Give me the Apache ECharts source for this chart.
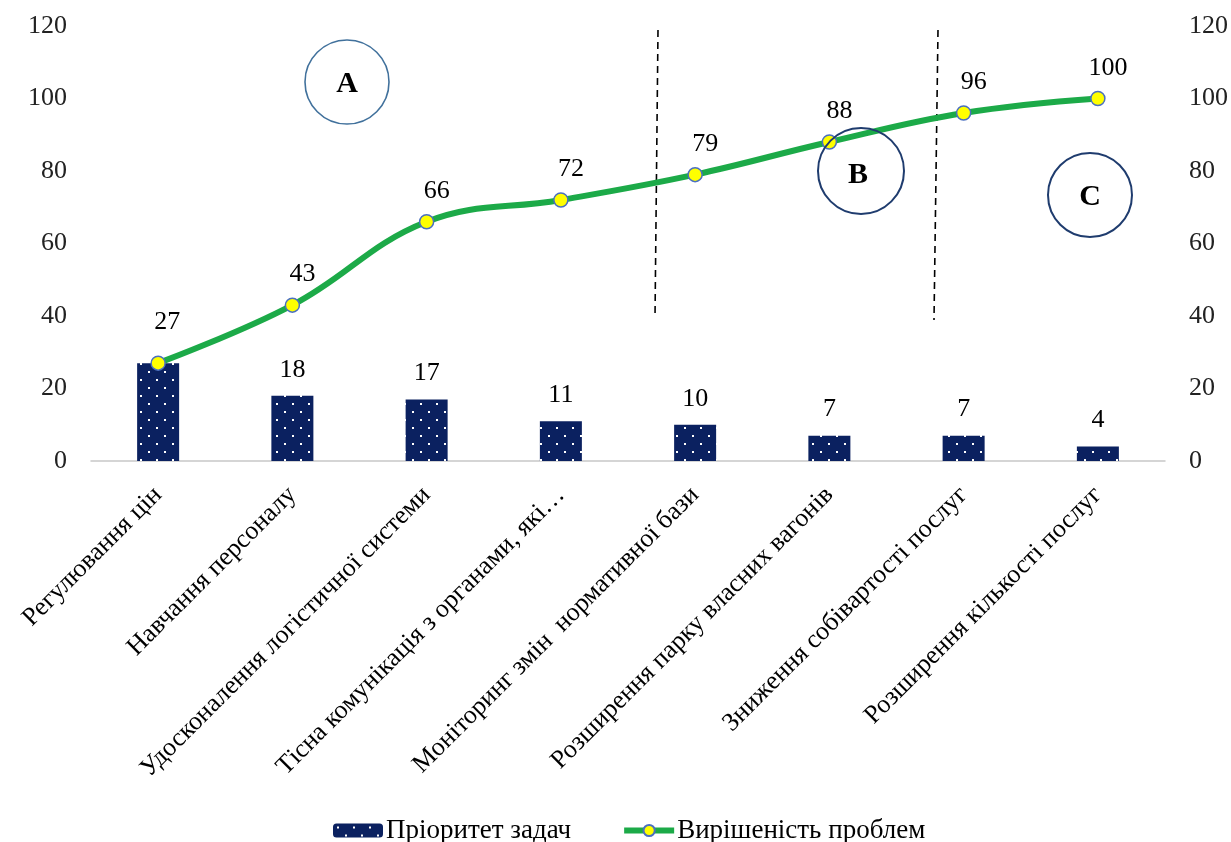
<!DOCTYPE html>
<html>
<head>
<meta charset="utf-8">
<script src="https://cdn.jsdelivr.net/npm/echarts@6/dist/echarts.min.js"></script>
<style>
html,body{margin:0;padding:0;background:#fff;}
#c{width:1231px;height:842px;}
</style>
</head>
<body>
<div id="c"></div>
<script>
const categories = [
  'Регулювання цін',
  'Навчання персоналу',
  'Удосконалення логістичної системи',
  'Тісна комунікація з органами, які…',
  'Моніторинг змін  нормативної бази',
  'Розширення парку власних вагонів',
  'Зниження собівартості послуг',
  'Розширення кількості послуг'
];
const priority = [27, 18, 17, 11, 10, 7, 7, 4];
const resolved = [27, 43, 66, 72, 79, 88, 96, 100];
const seriesNames = ['Пріоритет задач', 'Вирішеність проблем'];
const yTicks = { min: 0, max: 120, interval: 20 };
const zoneLetters = ['A', 'B', 'C'];

const FONT = '"Liberation Serif", "DejaVu Serif", serif';
const FS = 26;

// dotted navy pattern for bars
const pc = document.createElement('canvas');
pc.width = 16; pc.height = 16;
const px = pc.getContext('2d');
px.fillStyle = '#0b2160';
px.fillRect(0, 0, 16, 16);
px.fillStyle = '#ffffff';
px.fillRect(4, 3, 2, 2);
px.fillRect(12, 11, 2, 2);
const barPattern = { image: pc, repeat: 'repeat' };

// where the bar label would collide with the identical line label, Excel shows only one
const barData = priority.map((v, i) => (v === resolved[i] ? { value: v, label: { show: false } } : v));
const lineData = resolved.map((v, i) => (v === priority[i] ? { value: v, label: { offset: [9, -10] } } : v));

const chart = echarts.init(document.getElementById('c'), null, { renderer: 'canvas' });

const circleStyle = (stroke, lw) => ({ fill: 'none', stroke: stroke, lineWidth: lw });
const letterStyle = (t) => ({ text: t, fill: '#000', font: 'bold 30px ' + FONT, textAlign: 'center', textVerticalAlign: 'middle' });

chart.setOption({
  backgroundColor: '#ffffff',
  animation: false,
  grid: { left: 91, right: 64, top: 26, bottom: 381 },
  legend: {
    top: 817,
    left: 333,
    padding: 0,
    itemWidth: 50,
    itemHeight: 14,
    itemGap: 50,
    textStyle: { fontFamily: FONT, fontSize: 27, color: '#000', padding: [0, 0, 0, -2] },
    data: [
      { name: seriesNames[0], itemStyle: { borderWidth: 0 } },
      { name: seriesNames[1], lineStyle: { width: 6 } }
    ]
  },
  xAxis: {
    type: 'category',
    data: categories,
    axisLine: { lineStyle: { color: '#c8c8c8', width: 1.5 } },
    axisTick: { show: false },
    axisLabel: {
      rotate: 45,
      interval: 0,
      margin: 30,
      fontFamily: FONT,
      fontSize: FS,
      color: '#000'
    }
  },
  yAxis: [
    {
      type: 'value', min: yTicks.min, max: yTicks.max, interval: yTicks.interval,
      axisLine: { show: false }, axisTick: { show: false }, splitLine: { show: false },
      axisLabel: { margin: 24, fontFamily: FONT, fontSize: FS, color: '#222' }
    },
    {
      type: 'value', min: yTicks.min, max: yTicks.max, interval: yTicks.interval,
      axisLine: { show: false }, axisTick: { show: false }, splitLine: { show: false },
      axisLabel: { margin: 24, fontFamily: FONT, fontSize: FS, color: '#222' }
    }
  ],
  series: [
    {
      name: seriesNames[0],
      type: 'bar',
      data: barData,
      barWidth: 42,
      itemStyle: { color: barPattern },
      label: {
        show: true, position: 'top', distance: 13,
        fontFamily: FONT, fontSize: FS, color: '#000'
      },
      z: 2
    },
    {
      name: seriesNames[1],
      type: 'line',
      yAxisIndex: 1,
      data: lineData,
      smooth: 0.4,
      symbol: 'circle',
      symbolSize: 14,
      lineStyle: { color: '#1caa48', width: 6 },
      itemStyle: { color: '#ffff00', borderColor: '#4a6fc0', borderWidth: 1.5 },
      label: {
        show: true, position: 'top', distance: 10, offset: [10, 0],
        fontFamily: FONT, fontSize: FS, color: '#000'
      },
      z: 3
    }
  ],
  graphic: [
    { type: 'line', shape: { x1: 658, y1: 30, x2: 655, y2: 318 }, style: { stroke: '#000', lineWidth: 1.6, lineDash: [7, 5] }, z: 1 },
    { type: 'line', shape: { x1: 938, y1: 30, x2: 934, y2: 320 }, style: { stroke: '#000', lineWidth: 1.6, lineDash: [7, 5] }, z: 1 },
    { type: 'circle', shape: { cx: 347, cy: 82, r: 42 }, style: circleStyle('#41719c', 1.6), z: 10 },
    { type: 'text', x: 347, y: 84, style: letterStyle(zoneLetters[0]), z: 10 },
    { type: 'circle', shape: { cx: 861, cy: 171, r: 43 }, style: circleStyle('#1f3c6e', 2), z: 10 },
    { type: 'text', x: 858, y: 175, style: letterStyle(zoneLetters[1]), z: 10 },
    { type: 'circle', shape: { cx: 1090, cy: 195, r: 42 }, style: circleStyle('#1f3c6e', 2), z: 10 },
    { type: 'text', x: 1090, y: 197, style: letterStyle(zoneLetters[2]), z: 10 }
  ]
});
</script>
</body>
</html>
